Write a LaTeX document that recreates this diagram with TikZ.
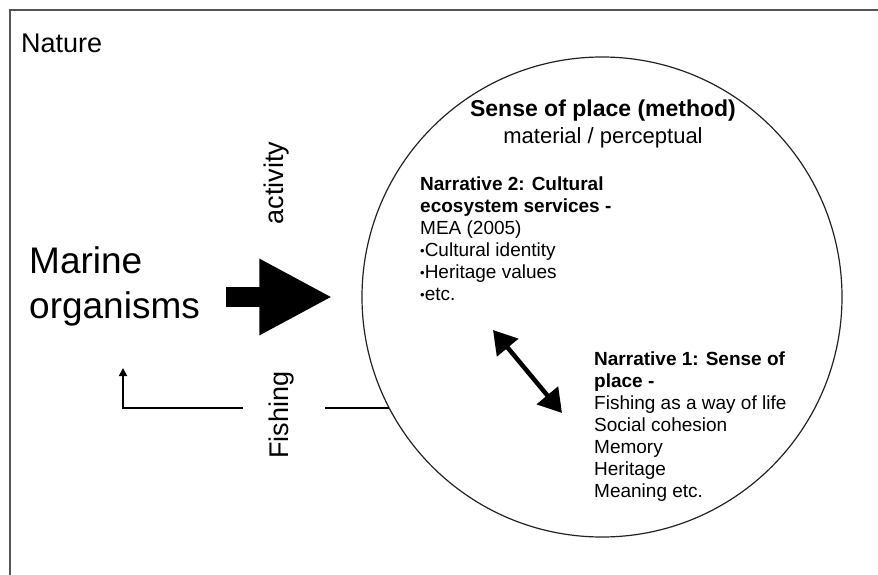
\documentclass[tikz,border=0pt]{standalone}
\usepackage{fontspec}
\setmainfont{Liberation Sans}
\usetikzlibrary{positioning,calc}
\usetikzlibrary{arrows.meta}
\definecolor{FrameGray}{RGB}{85,85,85}
\definecolor{RingGray}{RGB}{35,35,35}
\tikzset{
  frame/.style={draw=FrameGray,line width=1.6pt},
  ring/.style={circle,draw=RingGray,line width=1.2pt,minimum size=480pt,inner sep=0pt},
  lbl/.style={inner sep=0pt,font=\fontsize{27}{32}\selectfont},
  big/.style={inner sep=0pt,align=left,anchor=north west,font=\fontsize{37}{45}\selectfont},
  nar/.style={inner sep=0pt,align=left,anchor=north west,font=\fontsize{19}{22}\selectfont},
}
\tikzset{flow/.style={line width=20pt,-{Triangle[length=73pt,width=71pt]}}, link/.style={line width=4.5pt,{Triangle[length=23pt,width=27pt]}-{Triangle[length=23pt,width=27pt]}},fishpath/.style={line width=1.8pt}}
\newcommand{\dotitem}{{\raisebox{1pt}{\fontsize{13}{13}\selectfont\textbullet}}}

\begin{document}
\begin{tikzpicture}[x=1pt,y=-1pt]
\useasboundingbox (0,0) rectangle (878,575);
\draw[frame] (10,580) -- (10,10) -- (880,10);
\node[lbl,anchor=west] (nature) at (21,43) {Nature};
\node[ring] (circ) at (602,297) {};
\node[big] (marine) at (29,246) {Marine\\organisms};
\node[lbl,rotate=90] (act) at (277,183) {activity};
\node[lbl,rotate=90] (fish) at (282,415) {Fishing};
\coordinate (flowTail) at (226,297);
\draw[flow,shorten >=29pt] (flowTail) -- (circ.west);
\coordinate (ringHit) at ($(circ.center)+(-213,111)$);
\coordinate (fishR) at (325,408);
\coordinate (fishL) at (243,408);
\coordinate (fishUp) at (123,368);
\draw[fishpath] (ringHit) -- (fishR);
\draw[fishpath,-{Triangle[length=8pt,width=8pt]}] (fishL) -| (fishUp);
\node[anchor=base,font=\fontsize{23}{27}\selectfont\bfseries] (sop) at (603,117) {Sense of place (method)};
\node[anchor=base,font=\fontsize{22}{27}\selectfont] (matp) at (603,143) {material / perceptual};
\node[nar] (nar2) at (420,177) {\textbf{Narrative 2: Cultural}\\\textbf{ecosystem services -}\\MEA (2005)\\\dotitem Cultural identity\\\dotitem Heritage values\\\dotitem etc.};
\node[nar] (nar1) at (594,352) {\textbf{Narrative 1: Sense of}\\\textbf{place -}\\Fishing as a way of life\\Social cohesion\\Memory\\Heritage\\Meaning etc.};
\coordinate (linkA) at (493,330);
\coordinate (linkB) at (562,413);
\draw[link] (linkA) -- (linkB);
\end{tikzpicture}
\end{document}
